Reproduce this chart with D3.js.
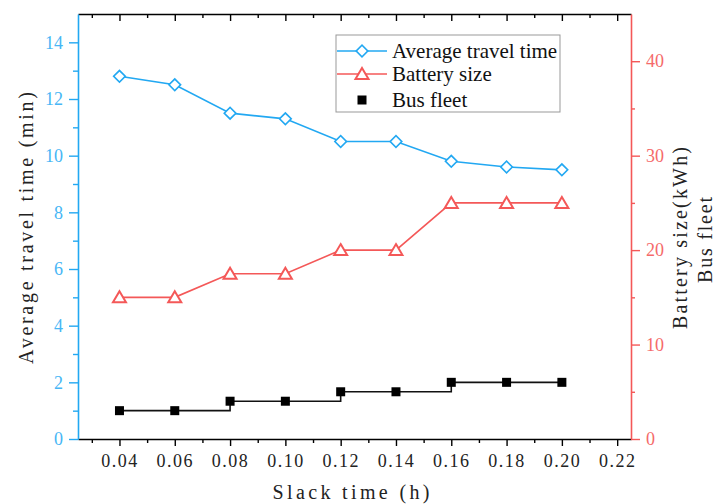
<!DOCTYPE html>
<html><head><meta charset="utf-8">
<script src="https://cdn.jsdelivr.net/npm/d3@7/dist/d3.min.js"></script>
<style>body{margin:0;background:#fff}svg{display:block}</style>
</head><body>
<svg id="c" width="715" height="504"></svg>
<script>
const slack = [0.04,0.06,0.08,0.10,0.12,0.14,0.16,0.18,0.20];
const travelTime = [12.8,12.5,11.5,11.3,10.5,10.5,9.8,9.6,9.5];
const batterySize = [15,15,17.5,17.5,20,20,25,25,25];
const busFleet = [3,3,4,4,5,5,6,6,6];
const xTicks = [0.04,0.06,0.08,0.10,0.12,0.14,0.16,0.18,0.20,0.22];
const leftTicks = [0,2,4,6,8,10,12,14];
const rightTicks = [0,10,20,30,40];
const seriesNames = ["Average travel time","Battery size","Bus fleet"];

const BLUE="#22A8F2", BLUE_T="#47B6F5", RED="#F45858", RED_T="#F56A6A";
const L=78,R=631,T=14,B=439;
const svg=d3.select("#c");
const x=d3.scaleLinear().domain([0.025,0.225]).range([L,R]);
const yL=d3.scaleLinear().domain([0,15]).range([B,T]);
const yR=d3.scaleLinear().domain([0,45]).range([B,T]);
const numFont="'Liberation Serif', 'Times New Roman', serif";

function styleAxis(g,color){
  g.attr("font-family",null);
  g.select(".domain").attr("stroke",color).attr("stroke-width",1.6);
  g.selectAll(".tick line").attr("stroke",color).attr("stroke-width",1.4);
}
const minorX=d3.range(0.03,0.225,0.02);
// bottom axis
const gb=svg.append("g").attr("transform",`translate(0,${B})`)
  .call(d3.axisBottom(x).tickValues(xTicks).tickSize(7).tickSizeOuter(0).tickFormat(d3.format(".2f")));
styleAxis(gb,"#000");
gb.selectAll(".tick text").style("font-family",numFont).style("font-size","18px").attr("letter-spacing",1.5).attr("fill","#222").attr("dy","1.0em");
svg.append("g").attr("transform",`translate(0,${B})`)
  .call(d3.axisBottom(x).tickValues(minorX).tickSize(4).tickSizeOuter(0).tickFormat(""))
  .call(g=>{g.select(".domain").remove();g.selectAll(".tick line").attr("stroke","#000").attr("stroke-width",1.4);});
// top axis (inward)
const gt=svg.append("g").attr("transform",`translate(0,${T})`)
  .call(d3.axisBottom(x).tickValues(xTicks).tickSize(7).tickSizeOuter(0).tickFormat(""));
styleAxis(gt,"#000");
svg.append("g").attr("transform",`translate(0,${T})`)
  .call(d3.axisBottom(x).tickValues(minorX).tickSize(4).tickSizeOuter(0).tickFormat(""))
  .call(g=>{g.select(".domain").remove();g.selectAll(".tick line").attr("stroke","#000").attr("stroke-width",1.4);});
// left axis
const gl=svg.append("g").attr("transform",`translate(${L},0)`)
  .call(d3.axisLeft(yL).tickValues(leftTicks).tickSize(9).tickSizeOuter(0).tickPadding(6));
styleAxis(gl,BLUE);
gl.selectAll(".tick text").style("font-family",numFont).style("font-size","18px").attr("fill",BLUE_T);
svg.append("g").attr("transform",`translate(${L},0)`)
  .call(d3.axisLeft(yL).tickValues(d3.range(1,15,2)).tickSize(5).tickSizeOuter(0).tickFormat(""))
  .call(g=>{g.select(".domain").remove();g.selectAll(".tick line").attr("stroke",BLUE).attr("stroke-width",1.4);});
// right axis
const gr=svg.append("g").attr("transform",`translate(${R},0)`)
  .call(d3.axisRight(yR).tickValues(rightTicks).tickSize(9).tickSizeOuter(0).tickPadding(6));
styleAxis(gr,RED);
gr.selectAll(".tick text").style("font-family",numFont).style("font-size","18px").attr("fill",RED_T);
svg.append("g").attr("transform",`translate(${R},0)`)
  .call(d3.axisRight(yR).tickValues([5,15,25,35]).tickSize(4).tickSizeOuter(0).tickFormat(""))
  .call(g=>{g.select(".domain").remove();g.selectAll(".tick line").attr("stroke",RED).attr("stroke-width",1.4);});

// titles
function title(txt,cx,cy,rot,len,size){
  svg.append("text").attr("transform",`translate(${cx},${cy}) rotate(${rot})`)
    .attr("text-anchor","middle").attr("dominant-baseline","central")
    .style("font-family",numFont).style("font-size",size+"px").attr("fill","#222")
    .attr("textLength",len).attr("lengthAdjust","spacing").text(txt);
}
title("Average travel time (min)",26,228,-90,272,20);
title("Slack time (h)",351,492,0,157,20);
title("Battery size(kWh)",680,238,-90,182,20);
title("Bus fleet",705,240,-90,86,20);

// series
const pts=slack.map((s,i)=>({s,t:travelTime[i],b:batterySize[i],f:busFleet[i]}));
svg.append("path").datum(pts).attr("fill","none").attr("stroke","#111").attr("stroke-width",1.6)
  .attr("d",d3.line().curve(d3.curveStepAfter).x(d=>x(d.s)).y(d=>yR(d.f)));
svg.selectAll(".sq").data(pts).join("rect").attr("x",d=>x(d.s)-4.5).attr("y",d=>yR(d.f)-4.5)
  .attr("width",9).attr("height",9).attr("fill","#000");

svg.append("path").datum(pts).attr("fill","none").attr("stroke",RED).attr("stroke-width",1.6)
  .attr("d",d3.line().x(d=>x(d.s)).y(d=>yR(d.b)));
const tri="M0,-6L6.5,5L-6.5,5Z";
svg.selectAll(".tri").data(pts).join("path").attr("d",tri)
  .attr("transform",d=>`translate(${x(d.s)},${yR(d.b)})`).attr("fill","#fff").attr("stroke",RED).attr("stroke-width",2);

svg.append("path").datum(pts).attr("fill","none").attr("stroke",BLUE).attr("stroke-width",1.6)
  .attr("d",d3.line().x(d=>x(d.s)).y(d=>yL(d.t)));
const dia=d3.symbol().type(d3.symbolSquare).size(68);
svg.selectAll(".dia").data(pts).join("path").attr("d",dia)
  .attr("transform",d=>`translate(${x(d.s)},${yL(d.t)}) rotate(45)`).attr("fill","#fff").attr("stroke",BLUE).attr("stroke-width",1.6);

// legend
const lg=svg.append("g");
lg.append("rect").attr("x",336).attr("y",35).attr("width",224).attr("height",77).attr("fill","#fff").attr("stroke","#999").attr("stroke-width",1);
const rows=[51,74,100];
const colors=[BLUE,RED,"#000"];
seriesNames.forEach((n,i)=>{
  const y=rows[i];
  if(i<2) lg.append("line").attr("x1",337).attr("x2",387).attr("y1",y).attr("y2",y).attr("stroke",colors[i]).attr("stroke-width",1.6);
  if(i===0) lg.append("path").attr("d",dia).attr("transform",`translate(362,${y}) rotate(45)`).attr("fill","#fff").attr("stroke",BLUE).attr("stroke-width",1.6);
  if(i===1) lg.append("path").attr("d",tri).attr("transform",`translate(362,${y})`).attr("fill","#fff").attr("stroke",RED).attr("stroke-width",2);
  if(i===2) lg.append("rect").attr("x",357.5).attr("y",y-4.5).attr("width",9).attr("height",9).attr("fill","#000");
  lg.append("text").attr("x",392).attr("y",y).attr("dominant-baseline","central")
    .style("font-family",numFont).style("font-size","21px").attr("fill","#111").text(n);
});
</script>
</body></html>
